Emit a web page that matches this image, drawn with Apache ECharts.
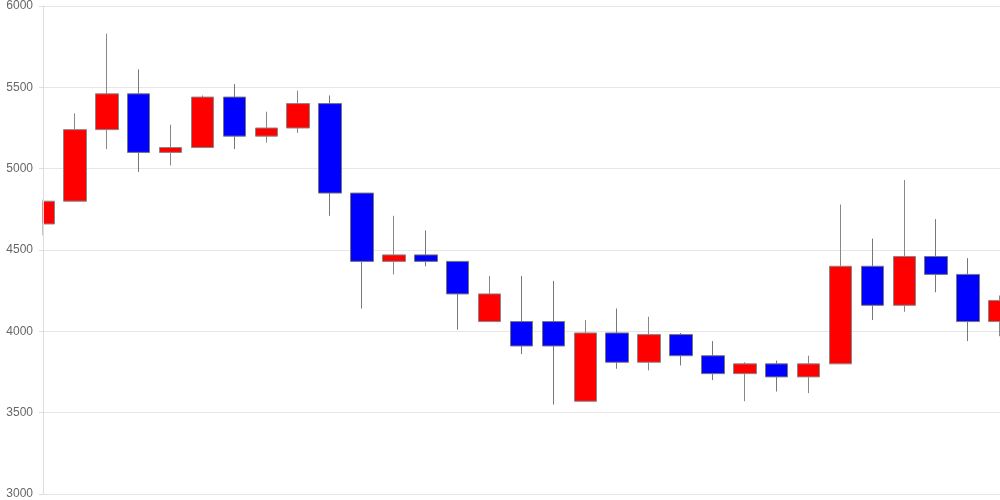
<!DOCTYPE html>
<html>
<head>
<meta charset="utf-8">
<script src="https://cdn.jsdelivr.net/npm/echarts@6/dist/echarts.min.js"></script>
<style>html,body{margin:0;padding:0;background:#fff}#c{width:1000px;height:500px}</style>
</head>
<body>
<div id="c"></div>
<script>
const categories = ['1','2','3','4','5','6','7','8','9','10','11','12','13','14','15','16','17','18','19','20','21','22','23','24','25','26','27','28','29','30','31'];
const openValues  = [4660,4800,5240,5460,5100,5130,5440,5200,5250,5400,4850,4430,4470,4430,4060,4060,4060,3570,3990,3810,3980,3850,3740,3800,3720,3800,4400,4160,4460,4350,4060];
const closeValues = [4800,5240,5460,5100,5130,5440,5200,5250,5400,4850,4430,4470,4430,4230,4230,3910,3910,3990,3810,3980,3850,3740,3800,3720,3800,4400,4160,4460,4350,4060,4190];
const lowValues   = [4590,4800,5120,4980,5020,5130,5120,5160,5220,4710,4140,4350,4400,4010,4060,3860,3550,3570,3770,3760,3790,3700,3570,3630,3620,3800,4070,4120,4240,3940,3970];
const highValues  = [4810,5340,5830,5610,5270,5450,5520,5350,5480,5450,4850,4710,4620,4430,4340,4340,4310,4070,4140,4090,3990,3940,3810,3820,3850,4780,4570,4930,4690,4450,4220];
const yTicks = [3000,3500,4000,4500,5000,5500,6000];

const ohlc = categories.map((c,i)=>[openValues[i],closeValues[i],lowValues[i],highValues[i]]);
const yMin = yTicks[0], yMax = yTicks[yTicks.length-1];
const chart = echarts.init(document.getElementById('c'));
chart.setOption({
  animation:false,
  grid:{left:43,right:0,top:6,bottom:6},
  graphic:[{type:'rect',z:5,silent:true,shape:{x:0,y:0,width:42.5,height:500},style:{fill:'#ffffff'}}],
  xAxis:{type:'category',data:categories,boundaryGap:false,show:false},
  yAxis:[
    {type:'value',min:yMin,max:yMax,interval:500,z:0,
      axisLine:{show:false},axisTick:{show:false},axisLabel:{show:false},
      splitLine:{lineStyle:{color:'#e6e6e6'}}},
    {type:'value',min:yMin,max:yMax,interval:500,z:10,position:'left',
      axisLine:{show:true,lineStyle:{color:'#dddddd'}},
      axisTick:{show:true,length:4,lineStyle:{color:'#dddddd'}},
      axisLabel:{color:'#666666',fontFamily:'Liberation Sans, Arial, sans-serif',fontSize:12,margin:10,formatter:(v)=>String(v)},
      splitLine:{show:false}}
  ],
  series:[{type:'candlestick',data:ohlc,yAxisIndex:0,barWidth:23,clip:true,z:2,
    itemStyle:{color:'#ff0000',color0:'#0000ff',borderColor:'#888888',borderColor0:'#777777',borderWidth:1}}]
});
</script>
</body>
</html>
